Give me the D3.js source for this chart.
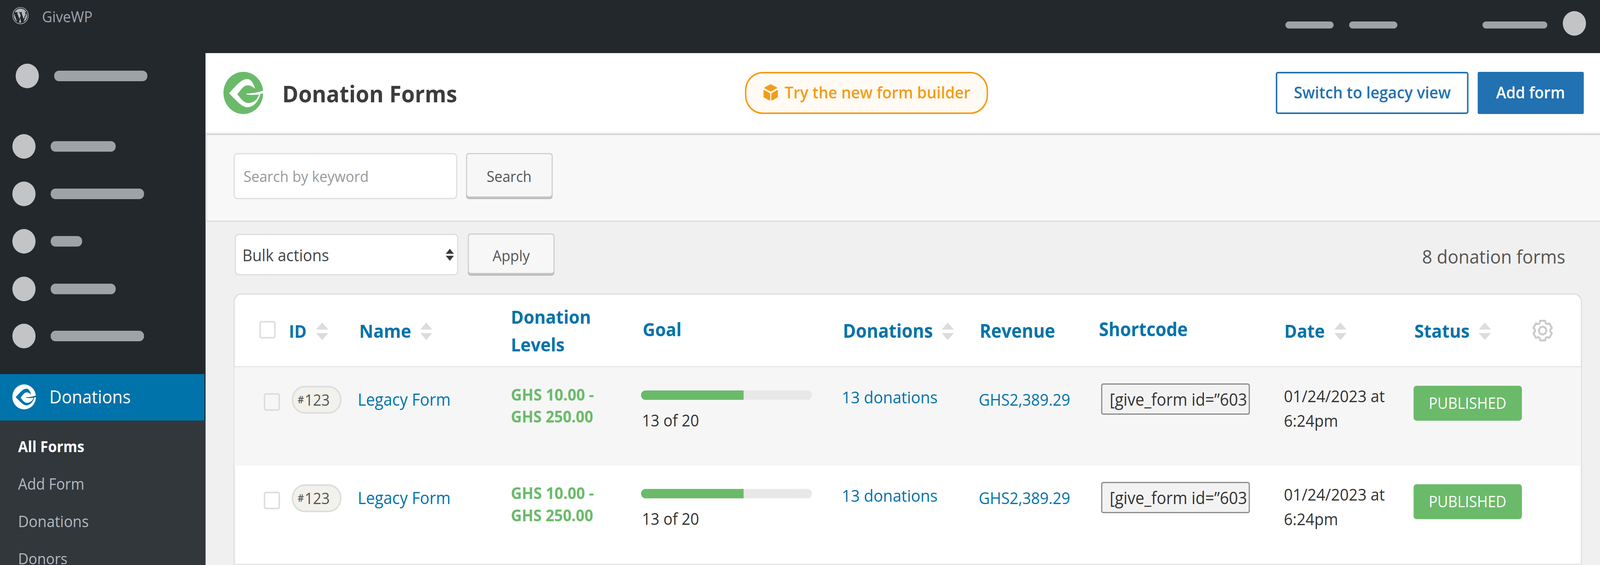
<!DOCTYPE html>
<html><head><meta charset="utf-8">
<script src="https://cdnjs.cloudflare.com/ajax/libs/d3/7.8.5/d3.min.js"></script>
<style>html,body{margin:0;padding:0;width:100%;height:100%;background:#f0f0f0;overflow:hidden}svg{display:block;width:100vw;height:100vh}text{font-family:"Open Sans",sans-serif}</style>
</head><body><svg id="c" viewBox="0 0 4343 1447" preserveAspectRatio="none"></svg>
<script>
// ---- data ----
const rows = ["row1", "row2"];
const formIds = ["123", "123"];
const formNames = ["Legacy Form", "Legacy Form"];
const levelsLow = ["GHS 10.00 -", "GHS 10.00 -"];
const levelsHigh = ["GHS 250.00", "GHS 250.00"];
const goalFillPercent = [60, 60];
const goalLabels = ["13 of 20", "13 of 20"];
const donationLabels = ["13 donations", "13 donations"];
const revenueLabels = ["GHS2,389.29", "GHS2,389.29"];
const shortcodes = ["[give_form id=\u201d603", "[give_form id=\u201d603"];
const dateLines1 = ["01/24/2023 at", "01/24/2023 at"];
const dateLines2 = ["6:24pm", "6:24pm"];
const statuses = ["PUBLISHED", "PUBLISHED"];
const subMenu = ["All Forms", "Add Form", "Donations", "Donors"];

const svg = d3.select("#c");
const BLUE = "#0073aa", GREEN = "#6bba6a", DARK = "#23282d", PILL = "#9ea3a6", DOT = "#c2c4c6";

function rect(g, x0, y0, x1, y1, fill, o = {}) {
  const r = g.append("rect").attr("x", x0).attr("y", y0).attr("width", x1 - x0).attr("height", y1 - y0).attr("fill", fill);
  if (o.rx) r.attr("rx", o.rx);
  if (o.stroke) r.attr("stroke", o.stroke).attr("stroke-width", o.sw || 3);
  return r;
}
// text sized so that its rendered width equals the width
function label(g, x, y, str, w, color, weight = 400) {
  const t = g.append("text").attr("x", x).attr("y", y).attr("fill", color).attr("font-weight", weight).attr("font-size", 100).text(str);
  const len = t.node().getComputedTextLength();
  t.attr("font-size", (100 * w / len).toFixed(2));
  return t;
}
function sortArrows(g, x0, x1) {
  const c = (x0 + x1) / 2;
  const p = d3.path();
  p.moveTo(c, 826); p.lineTo(x1, 844); p.lineTo(x0, 844); p.closePath();
  p.moveTo(x0, 853); p.lineTo(x1, 853); p.lineTo(c, 871); p.closePath();
  g.append("path").attr("d", p.toString()).attr("fill", "#dcdcdc");
}
function givePath(cx, cy, r) {
  const pts = "M-.72,.02 C-.42,-.28 -.12,-.66 .2,-.66 C.38,-.66 .52,-.45 .59,-.2 C.45,-.3 .35,-.36 .2,-.36 C0,-.36 -.15,-.1 -.3,.06 C-.15,.25 .02,.48 .26,.48 C.5,.48 .72,.3 .79,.08 C.55,.1 .35,.1 .15,.07 L.15,.03 C.45,.03 .75,-.03 1,-.11 L1,.02 L.85,.05 C.78,.4 .5,.68 .2,.68 C-.1,.68 -.4,.3 -.72,.02 Z";
  return { d: pts, t: `translate(${cx},${cy}) scale(${r})` };
}

// ---- page frames ----
rect(svg, 0, 0, 4343, 1447, "#f0f0f0");
rect(svg, 0, 0, 4343, 136, DARK);
rect(svg, 0, 136, 558, 1077, DARK);
rect(svg, 0, 1077, 558, 1447, "#32373c");
rect(svg, 558, 136, 4343, 340, "#ffffff");
rect(svg, 558, 340, 4343, 343, "#e6e6e6");
rect(svg, 558, 343, 4343, 346, "#d6d6d6");
rect(svg, 558, 346, 4343, 565, "#f8f8f8");
rect(svg, 559, 340, 562, 566, "#e0e0e0");
rect(svg, 558, 565, 4343, 568, "#dcdcdc");

// ---- top bar ----
const wp = svg.append("g").attr("transform", "translate(55.7,40)");
wp.append("circle").attr("r", 21).attr("fill", "none").attr("stroke", "#b4b9be").attr("stroke-width", 1.6);
wp.append("circle").attr("r", 18).attr("fill", "#b4b9be");
wp.append("path").attr("transform", "scale(21)")
  .attr("d", "M-.78,-.42 L-.34,-.42 L-.34,-.36 L-.44,-.34 L-.14,.42 L.02,.02 L-.12,-.34 L-.22,-.36 L-.22,-.42 L.22,-.42 L.22,-.36 L.12,-.34 L.4,.42 L.62,-.1 C.7,-.3 .6,-.36 .52,-.42 L.8,-.42 L.8,-.3 L.34,.88 L.08,.84 L-.02,.3 L-.22,.88 L-.4,.84 L-.8,-.2 Z")
  .attr("fill", DARK);
label(svg, 114, 57, "GiveWP", 137, "#a0a5aa");
[[3489, 3620], [3662, 3793], [4024, 4200]].forEach(([a, b]) => rect(svg, a, 55, b, 73, PILL, { rx: 9 }));
svg.append("circle").attr("cx", 4273.5).attr("cy", 60).attr("r", 31.5).attr("fill", DOT);

// ---- sidebar ----
svg.append("circle").attr("cx", 74).attr("cy", 194.5).attr("r", 31.5).attr("fill", DOT);
rect(svg, 147, 181, 400, 208, PILL, { rx: 13 });
[[375, 314], [496.5, 391], [618, 223], [740, 314], [860.6, 391]].forEach(([cy, x1]) => {
  svg.append("circle").attr("cx", 65).attr("cy", cy).attr("r", 31.5).attr("fill", DOT);
  rect(svg, 137.5, cy - 13.5, x1, cy + 13.5, PILL, { rx: 13 });
});
rect(svg, 0, 958, 555, 1077, BLUE);
svg.append("circle").attr("cx", 65.5).attr("cy", 1016.5).attr("r", 32).attr("fill", "#fff");
const g0 = givePath(65.5, 1016.5, 32);
svg.append("path").attr("d", g0.d).attr("transform", g0.t).attr("fill", BLUE);
label(svg, 134, 1033, "Donations", 221, "#ffffff");
const subY = d3.scalePoint().domain(subMenu).range([1158, 1445.5]);
const subW = { "All Forms": 180, "Add Form": 180, "Donations": 192, "Donors": 134 };
subMenu.forEach((s, i) => label(svg, 49, subY(s), s, subW[s], i === 0 ? "#ffffff" : "#b4b9be", i === 0 ? 700 : 400));

// ---- page header ----
svg.append("circle").attr("cx", 660.5).attr("cy", 238).attr("r", 54).attr("fill", GREEN);
const g1 = givePath(660.5, 238, 54);
svg.append("path").attr("d", g1.d).attr("transform", g1.t).attr("fill", "#fff");
label(svg, 766, 262, "Donation Forms", 475, "#3c3c3c", 700);

rect(svg, 2024, 186, 2680, 290, "#fffaf3", { rx: 46, stroke: "#f49c18", sw: 4 });
const box = svg.append("g").attr("fill", "#f49c18").attr("stroke", "#f49c18").attr("stroke-width", 3).attr("stroke-linejoin", "round");
box.append("path").attr("d", "M2092,217 L2108,225 L2092,233 L2076,225 Z");
box.append("path").attr("d", "M2074,232 L2089,240 L2089,256 L2074,248 Z");
box.append("path").attr("d", "M2110,232 L2095,240 L2095,256 L2110,248 Z");
label(svg, 2130, 252.5, "Try the new form builder", 504, "#f49c18", 600);

rect(svg, 3465, 186, 3984, 290, "#ffffff", { rx: 4, stroke: "#2271b1", sw: 4 });
label(svg, 3512, 252.5, "Switch to legacy view", 426, "#2271b1", 600);
rect(svg, 4011, 184, 4299, 292, "#2271b1", { rx: 4 });
label(svg, 4061, 252.5, "Add form", 187, "#ffffff", 600);

// ---- search + bulk ----
rect(svg, 635.5, 393.5, 1239.5, 508.5, "#ffffff", { rx: 9, stroke: "#dddddd", sw: 3 });
label(svg, 661, 466, "Search by keyword", 340, "#999999");
rect(svg, 1265, 392, 1500, 510, "#bdbdbd", { rx: 8 });
rect(svg, 1266.5, 393.5, 1498.5, 504, "#f7f7f7", { rx: 7, stroke: "#cfcfcf", sw: 2.5 });
label(svg, 1321, 466, "Search", 122, "#555555");

rect(svg, 639, 600.5, 1242.5, 703.5, "#ffffff", { rx: 9, stroke: "#dddddd", sw: 3 });
label(svg, 658, 669.5, "Bulk actions", 235, "#444444");
svg.append("path").attr("d", "M1221,637 L1232,650 L1210,650 Z M1210,655 L1232,655 L1221,668 Z").attr("fill", "#333b40");
rect(svg, 1270, 598, 1505, 706, "#bdbdbd", { rx: 8 });
rect(svg, 1271.5, 599.5, 1503.5, 700, "#f7f7f7", { rx: 7, stroke: "#cfcfcf", sw: 2.5 });
label(svg, 1337, 669, "Apply", 101, "#555555");
label(svg, 3860, 675, "8 donation forms", 389, "#555555");

// ---- table ----
rect(svg, 635.5, 753, 4292.5, 1460, "#ffffff", { rx: 20, stroke: "#dddddd", sw: 3 });
rect(svg, 634, 938, 4294, 940.5, "#dddddd");
const rowY = d3.scaleBand().domain(rows).range([940, 1444.4]);
const rowTop = (r) => rowY(r);
rect(svg, 636, rowTop("row1"), 4292, rowTop("row2"), "#f6f6f6");
rect(svg, 634, 1443.5, 4294, 1447, "#e8e8e8");

// header
rect(svg, 706, 824, 746, 865, "none", { rx: 4, stroke: "#dddddd", sw: 4 });
[["ID", 784, 865, 48], ["Name", 975, 865, 141], ["Donation", 1386.5, 829, 217.5], ["Levels", 1386.5, 900, 146],
 ["Goal", 1744.5, 861, 105.5], ["Donations", 2288, 865, 244], ["Revenue", 2659, 865, 205],
 ["Shortcode", 2983, 861, 241], ["Date", 3486, 865, 110], ["Status", 3839, 865, 150]]
  .forEach(([s, x, y, w]) => label(svg, x, y, s, w, BLUE, 700));
[[858, 891], [1141, 1173], [2556, 2589], [3622, 3655], [4014, 4047]].forEach(([a, b]) => sortArrows(svg, a, b));

// gear
const gear = d3.path(), gcx = 4187.3, gcy = 846.7;
for (let i = 0; i < 6; i++) {
  const a = (i * Math.PI) / 3 - Math.PI / 2;
  const at = (r, da) => [gcx + r * Math.cos(a + da), gcy + r * Math.sin(a + da)];
  const pts = [at(20.5, -0.42), at(26, -0.26), at(26, 0.26), at(20.5, 0.42)];
  pts.forEach((p, j) => { (i === 0 && j === 0) ? gear.moveTo(p[0], p[1]) : gear.lineTo(p[0], p[1]); });
}
gear.closePath();
svg.append("path").attr("d", gear.toString()).attr("fill", "none").attr("stroke", "#c9caca").attr("stroke-width", 5).attr("stroke-linejoin", "round");
svg.append("circle").attr("cx", gcx).attr("cy", gcy).attr("r", 10).attr("fill", "none").attr("stroke", "#c9caca").attr("stroke-width", 5);

// rows
const goalX = d3.scaleLinear().domain([0, 100]).range([1740, 2204]);
rows.forEach((r, i) => {
  const g = svg.append("g").attr("transform", `translate(0,${rowTop(r) - 940})`);
  rect(g, 718, 1009, 758, 1050, "none", { rx: 4, stroke: "#dddddd", sw: 4 });
  rect(g, 794, 990, 925, 1057.5, "#f2f1eb", { rx: 33.5, stroke: "#dddddd", sw: 4 });
  label(g, 808, 1033, "#", 17, "#555555", 600);
  label(g, 827, 1039, formIds[i], 68, "#555555");
  label(g, 971, 1039, formNames[i], 252, BLUE, 500);
  label(g, 1386.5, 1026, levelsLow[i], 225.5, GREEN, 700);
  label(g, 1386.5, 1082.5, levelsHigh[i], 223.5, GREEN, 700);
  rect(g, goalX(0), 1000, goalX(100), 1024, "#e8e8e8", { rx: 12 });
  g.append("path").attr("fill", GREEN)
    .attr("d", `M${goalX(goalFillPercent[i])},1000 L${goalX(0) + 12},1000 A12,12 0 0 0 ${goalX(0) + 12},1024 L${goalX(goalFillPercent[i])},1024 Z`);
  label(g, 1742.6, 1092, goalLabels[i], 155, "#333333");
  label(g, 2285, 1033, donationLabels[i], 260, BLUE, 500);
  label(g, 2656.5, 1039, revenueLabels[i], 248.5, BLUE, 500);
  rect(g, 2990.5, 983.5, 3391, 1060.5, "#f2f2f2", { rx: 4, stroke: "#888888", sw: 3 });
  label(g, 3012, 1039, shortcodes[i], 373, "#333333");
  label(g, 3485, 1030, dateLines1[i], 274, "#333333");
  label(g, 3485, 1093, dateLines2[i], 147, "#333333");
  rect(g, 3837, 988, 4131, 1077.4, GREEN, { rx: 8 });
  label(g, 3878, 1047, statuses[i], 211, "#ffffff", 500);
});
</script></body></html>
